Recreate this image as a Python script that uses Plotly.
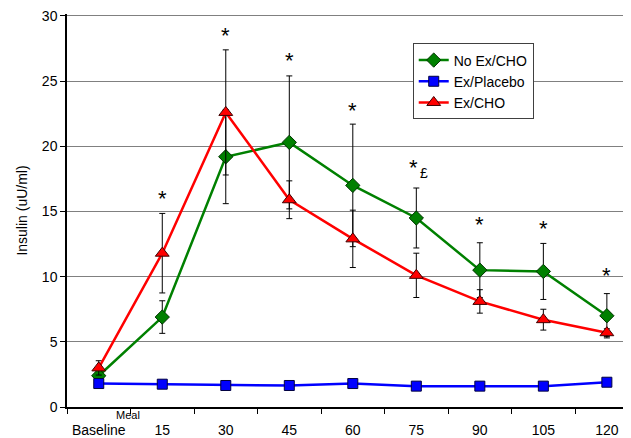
import plotly.graph_objects as go

categories = ["Baseline", "15", "30", "45", "60", "75", "90", "105", "120"]

no_ex_cho = [2.4, 6.9, 19.2, 20.3, 17.0, 14.5, 10.5, 10.4, 7.0]
no_ex_cho_err = [0.3, 1.25, 3.6, 5.1, 4.7, 2.3, 2.1, 2.15, 1.7]

ex_placebo = [1.8, 1.75, 1.65, 1.65, 1.8, 1.6, 1.6, 1.6, 1.9]

ex_cho = [3.0, 11.8, 22.6, 15.9, 12.9, 10.1, 8.1, 6.7, 5.7]
ex_cho_err = [0.55, 3.05, 4.8, 1.45, 2.2, 1.7, 0.9, 0.8, 0.3]

# significance markers
sig_cats = ["15", "30", "45", "60", "75", "90", "105", "120"]
sig_vals = [16.2, 28.7, 26.8, 23.0, 18.6, 14.2, 13.9, 10.3]
sig_text = ["*", "*", "*", "*", "*", "*", "*", "*"]

FONT = "Liberation Sans, Arial, sans-serif"

fig = go.Figure()
fig.add_trace(go.Scatter(
    x=categories, y=no_ex_cho, name="No Ex/CHO", mode="lines+markers",
    line=dict(color="#008000", width=2.5),
    marker=dict(symbol="diamond", size=11, color="#008000",
                line=dict(color="#003300", width=1)),
    error_y=dict(type="data", array=no_ex_cho_err, color="#000000",
                 thickness=1, width=3),
))
fig.add_trace(go.Scatter(
    x=categories, y=ex_placebo, name="Ex/Placebo", mode="lines+markers",
    line=dict(color="#0000FF", width=2.5),
    marker=dict(symbol="square", size=10, color="#0000FF",
                line=dict(color="#000040", width=1)),
))
fig.add_trace(go.Scatter(
    x=categories, y=ex_cho, name="Ex/CHO", mode="lines+markers",
    line=dict(color="#FF0000", width=2.5),
    marker=dict(symbol="triangle-up", size=12, color="#FF0000",
                line=dict(color="#400000", width=1)),
    error_y=dict(type="data", array=ex_cho_err, color="#000000",
                 thickness=1, width=3),
))

for c, v, t in zip(sig_cats, sig_vals, sig_text):
    idx = categories.index(c)
    fig.add_annotation(x=idx, y=v, text=t, showarrow=False,
                       xref="x", yref="y",
                       xanchor="center", yanchor="middle",
                       font=dict(size=22, color="#000000", family=FONT),
                       xshift=-3 if c == "75" else 0, yshift=-3)
fig.add_annotation(x=categories.index("75"), y=18.6, text="£", showarrow=False,
                   xref="x", yref="y",
                   xanchor="left", yanchor="middle", xshift=2, yshift=-8,
                   font=dict(size=14, color="#000000", family=FONT))
fig.add_annotation(x=0.5, y=0, text="Meal", showarrow=False,
                   xref="x", yref="y", xanchor="center", yanchor="middle",
                   yshift=-8, xshift=-3,
                   font=dict(size=11, color="#000000", family=FONT))

# page body has an 8px margin, so the figure is sized/offset to compensate
fig.update_layout(
    width=623, height=430,
    margin=dict(l=59, r=0, t=6, b=31),
    paper_bgcolor="white", plot_bgcolor="white",
    font=dict(family=FONT, size=14, color="#000000"),
    showlegend=True,
    legend=dict(x=0.613, y=0.925, xanchor="left", yanchor="top",
                bgcolor="white", bordercolor="#404040", borderwidth=1,
                font=dict(size=14, family=FONT), tracegroupgap=0,
                itemwidth=30),
    xaxis=dict(type="category", range=[-0.5, 8.38], automargin=False,
               tickson="boundaries", ticks="outside", ticklen=5,
               tickcolor="#000000", showline=True, linecolor="#000000",
               linewidth=1.5, showgrid=False, zeroline=False,
               ticklabelstandoff=9,
               tickfont=dict(size=14, family=FONT)),
    yaxis=dict(range=[0, 30.15], tickvals=[0, 5, 10, 15, 20, 25, 30],
               automargin=False, ticklabeloverflow="allow",
               ticks="outside", ticklen=5, tickcolor="#000000",
               showline=True, linecolor="#000000", linewidth=1.5,
               showgrid=True, gridcolor="#808080", gridwidth=1,
               zeroline=False,
               title=dict(text="Insulin (uU/ml)", font=dict(size=14, family=FONT),
                          standoff=11),
               tickfont=dict(size=14, family=FONT)),
)

fig.write_html("out.html")
